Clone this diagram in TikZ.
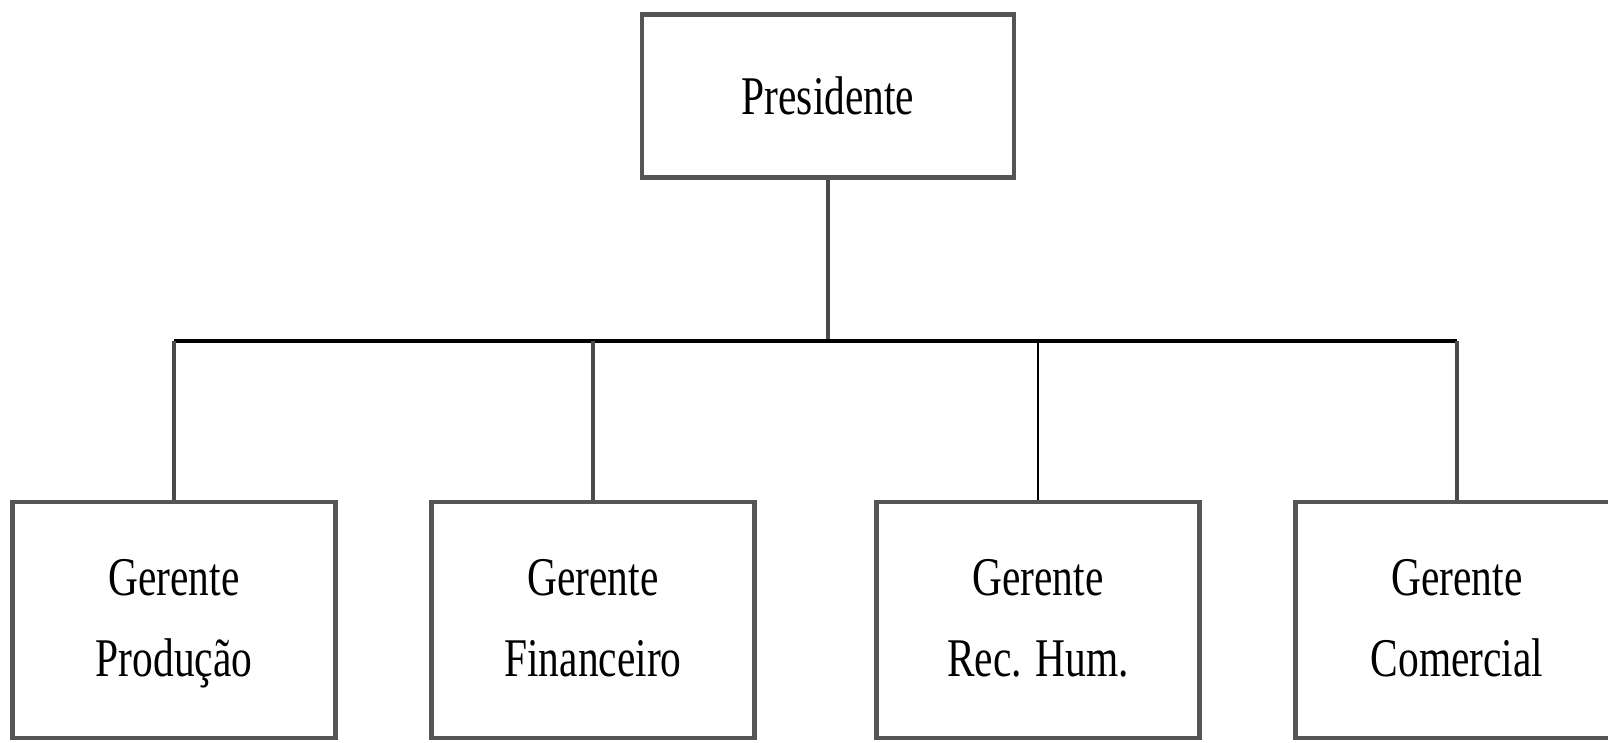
\documentclass[tikz,border=0pt]{standalone}
\usepackage{fontspec}
\setmainfont{Liberation Serif}[FakeStretch=0.76]
\definecolor{boxgray}{HTML}{555555}
\definecolor{linegray}{HTML}{4a4a4a}
\tikzset{
  orgbox/.style={draw=boxgray, line width=1.2pt, fill=white, align=center,
    font=\fontsize{15.5}{23}\selectfont, inner sep=0pt},
  drop/.style={draw=linegray, line width=1pt},
}
\begin{document}
\begin{tikzpicture}[x=0.01cm, y=-0.01cm]
  \useasboundingbox (0,0) rectangle (1608,743);
  \node[orgbox, minimum width=3.72cm, minimum height=1.63cm] (pres) at (828,96) {Presidente};
  \node[orgbox, minimum width=3.23cm, minimum height=2.36cm] (prod) at (174,620) {\strut Gerente\\\strut Produção};
  \node[orgbox, minimum width=3.23cm, minimum height=2.36cm] (fin) at (593,620) {\strut Gerente\\\strut Financeiro};
  \node[orgbox, minimum width=3.23cm, minimum height=2.36cm] (rh) at (1038,620) {\strut Gerente\\\strut Rec. Hum.};
  \node[orgbox, minimum width=3.23cm, minimum height=2.36cm] (com) at (1457,620) {\strut Gerente\\\strut Comercial};
  \coordinate (bus) at (0,341);
  \draw[drop] (pres.south) to (pres.south |- bus);
  \draw[line width=1.4pt] (prod.north |- bus) to (com.north |- bus);
  \draw[drop] (prod.north |- bus) to (prod.north);
  \draw[drop] (fin.north |- bus) to (fin.north);
  \draw[line width=0.7pt] (rh.north |- bus) to (rh.north);
  \draw[drop] (com.north |- bus) to (com.north);
\end{tikzpicture}
\end{document}
